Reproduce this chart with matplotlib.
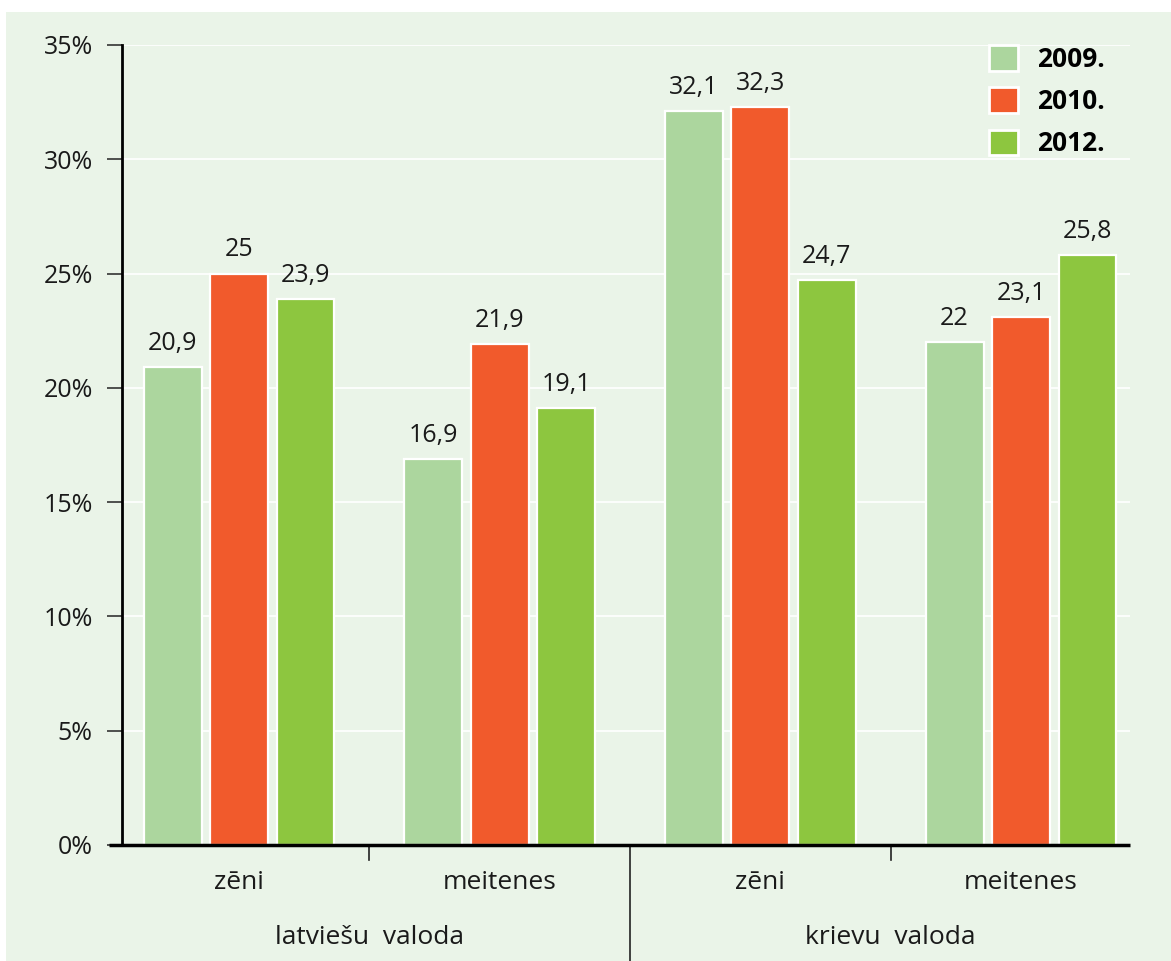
import numpy as np
import matplotlib.pyplot as plt
from matplotlib.patches import Patch, Rectangle
from matplotlib.transforms import blended_transform_factory

plt.rcParams['font.family'] = ['Open Sans', 'DejaVu Sans']

categories = ['zēni', 'meitenes', 'zēni', 'meitenes']
groups = ['latviešu  valoda', 'krievu  valoda']
years = ['2009.', '2010.', '2012.']
v2009 = [20.9, 16.9, 32.1, 22.0]
v2010 = [25.0, 21.9, 32.3, 23.1]
v2012 = [23.9, 19.1, 24.7, 25.8]
yticks = [0, 5, 10, 15, 20, 25, 30, 35]

colors = ['#acd69e', '#f15a2c', '#8dc63f']
bg = '#eaf4e8'

fig = plt.figure(figsize=(11.71, 9.61), dpi=100)
fig.patches.append(Rectangle((6 / 1171, 0), 1, 1 - 12 / 961, transform=fig.transFigure,
                             facecolor=bg, edgecolor='none', zorder=-10))
ax = fig.add_axes([122 / 1171, 1 - 845 / 961, 1008 / 1171, 800 / 961])
ax.set_facecolor(bg)

x = np.arange(len(categories))
step = 0.255
for i, vals in enumerate([v2009, v2010, v2012]):
    xs = x + (i - 1) * step
    ax.bar(xs, vals, width=0.222, color=colors[i], edgecolor='white', linewidth=1.6,
           zorder=3, label=years[i])
    for xi, v in zip(xs, vals):
        txt = ('%.1f' % v).replace('.', ',')
        if txt.endswith(',0'):
            txt = txt[:-2]
        ax.annotate(txt, (xi, v), xytext=(0, 8), textcoords='offset points',
                    ha='center', va='bottom', fontsize=18, color='#1a1a1a')

ax.set_xlim(-0.449, 3.418)
ax.set_ylim(0, 35)
ax.set_yticks(yticks)
ax.set_yticklabels(['%d%%' % t for t in yticks], fontsize=18, color='#1a1a1a')
ax.tick_params(axis='y', length=11, width=1.2, color='#333333', pad=10)
ax.yaxis.grid(True, color='white', linewidth=1.2, zorder=0)
ax.set_axisbelow(True)

ax.set_xticks(x)
ax.set_xticklabels(categories, fontsize=19, color='#1a1a1a')
ax.tick_params(axis='x', length=0, pad=18)

for s in ['top', 'right']:
    ax.spines[s].set_visible(False)
ax.spines['left'].set_linewidth(2)
ax.spines['bottom'].set_visible(False)
ax.plot([-13 / 1008, 1], [0, 0], transform=ax.transAxes, color='black',
        linewidth=2.5, clip_on=False, zorder=5, solid_capstyle='butt')

tr = blended_transform_factory(ax.transData, ax.transAxes)
for sx in [0.5, 2.5]:
    ax.plot([sx, sx], [0, -0.019], transform=tr, color='#222222', linewidth=1.2, clip_on=False)
ax.plot([1.5, 1.5], [0, -0.15], transform=tr, color='#222222', linewidth=1.2, clip_on=False)

for gx, g in zip([0.5, 2.5], groups):
    ax.text(gx, -0.115, g, transform=tr, ha='center', va='center', fontsize=19, color='#1a1a1a')

handles = [Patch(facecolor=c, edgecolor='white', linewidth=2) for c in colors]
leg = ax.legend(handles, years, loc='upper left', bbox_to_anchor=(976 / 1171, 1 - 32 / 961),
                bbox_transform=fig.transFigure, frameon=False, borderpad=0,
                handlelength=1.1, handleheight=1.1, labelspacing=0.55, handletextpad=0.7,
                prop={'size': 19, 'weight': 'bold'})

fig.savefig('out.png', dpi=100, facecolor='white')
